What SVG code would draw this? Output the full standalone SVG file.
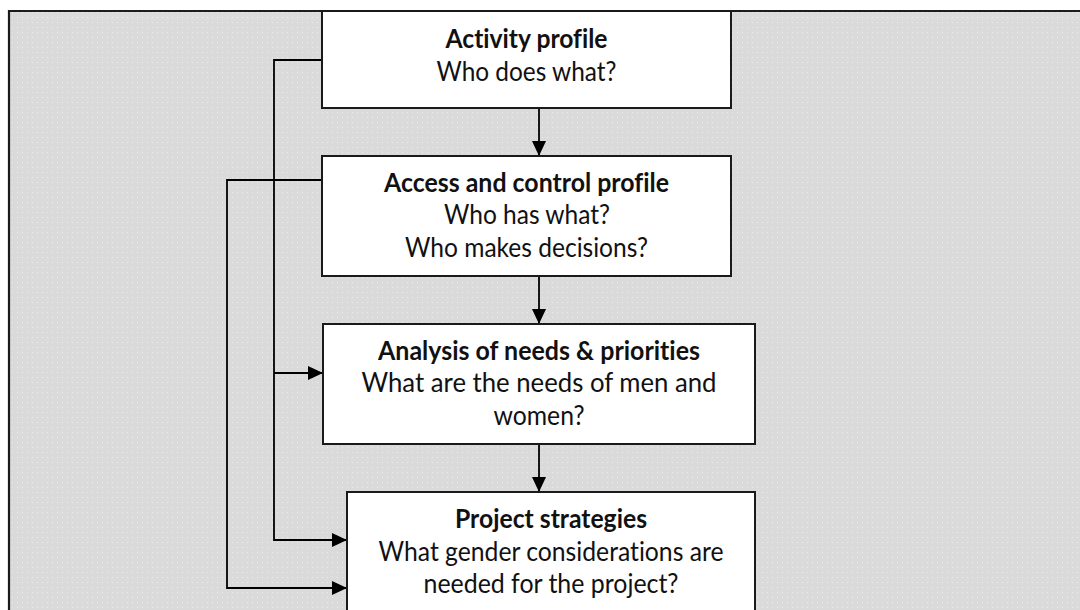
<svg xmlns="http://www.w3.org/2000/svg" width="1080" height="610" viewBox="0 0 1080 610">
  <style>
    .box { fill: #ffffff; stroke: #1a1a1a; stroke-width: 2; }
    .conn { fill: none; stroke: #000000; stroke-width: 1.8; }
    .t { font-family: Lato, "Open Sans", "Liberation Sans", sans-serif; font-size: 26px; fill: #111111; text-anchor: middle; font-variant-ligatures: none; }
    .b { font-weight: bold; }
  </style>
  <defs>
    <pattern id="dots" width="5" height="5" patternUnits="userSpaceOnUse">
      <rect width="5" height="5" fill="#dadada"/>
      <rect x="2" y="2" width="1" height="1" fill="#ececec"/>
    </pattern>
    <marker id="arr" markerUnits="userSpaceOnUse" markerWidth="16" markerHeight="15" refX="15" refY="7" orient="auto" overflow="visible">
      <path d="M0,0 L15,7 L0,14 z" fill="#000000"/>
    </marker>
  </defs>

  <rect x="0" y="0" width="1080" height="610" fill="#ffffff"/>
  <rect x="9" y="11" width="1080" height="610" fill="url(#dots)"/>
  <path d="M9,620 V11 H1090" fill="none" stroke="#1a1a1a" stroke-width="2.2"/>

  <g id="connectors">
    <path class="conn" d="M322,60 H274 V540 H347" marker-end="url(#arr)"/>
    <path class="conn" d="M274,373 H323" marker-end="url(#arr)"/>
    <path class="conn" d="M322,180 H227 V588 H347" marker-end="url(#arr)"/>
    <path class="conn" d="M539,108 V156" marker-end="url(#arr)"/>
    <path class="conn" d="M539,276 V324" marker-end="url(#arr)"/>
    <path class="conn" d="M539,444 V492" marker-end="url(#arr)"/>
  </g>

  <g id="activity-profile">
    <rect class="box" x="322" y="11" width="409" height="97"/>
    <text class="t b" x="526.5" y="48" textLength="162" lengthAdjust="spacingAndGlyphs">Activity profile</text>
    <text class="t" x="526.5" y="81" textLength="180" lengthAdjust="spacingAndGlyphs">Who does what?</text>
  </g>

  <g id="access-control-profile">
    <rect class="box" x="322" y="156" width="409" height="120"/>
    <text class="t b" x="526.5" y="192" textLength="285" lengthAdjust="spacingAndGlyphs">Access and control profile</text>
    <text class="t" x="527" y="224" textLength="166" lengthAdjust="spacingAndGlyphs">Who has what?</text>
    <text class="t" x="526.5" y="257" textLength="243" lengthAdjust="spacingAndGlyphs">Who makes decisions?</text>
  </g>

  <g id="needs-priorities">
    <rect class="box" x="323" y="324" width="432" height="120"/>
    <text class="t b" x="539" y="360" textLength="322" lengthAdjust="spacingAndGlyphs">Analysis of needs &amp; priorities</text>
    <text class="t" x="539" y="392" textLength="355" lengthAdjust="spacingAndGlyphs">What are the needs of men and</text>
    <text class="t" x="539" y="425" textLength="91" lengthAdjust="spacingAndGlyphs">women?</text>
  </g>

  <g id="project-strategies">
    <rect class="box" x="347" y="492" width="408" height="130"/>
    <text class="t b" x="551" y="528" textLength="192" lengthAdjust="spacingAndGlyphs">Project strategies</text>
    <text class="t" x="551" y="561" textLength="345" lengthAdjust="spacingAndGlyphs">What gender considerations are</text>
    <text class="t" x="551" y="593" textLength="255" lengthAdjust="spacingAndGlyphs">needed for the project?</text>
  </g>
</svg>
